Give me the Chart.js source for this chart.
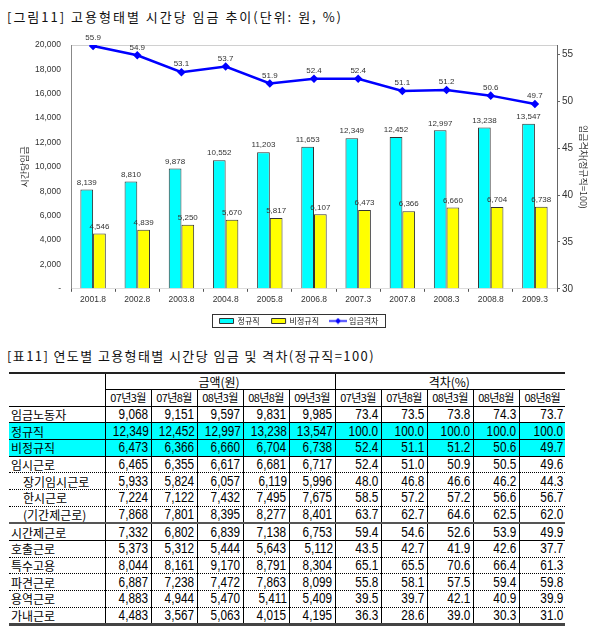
<!DOCTYPE html>
<html>
<head>
<meta charset="utf-8">
<script src="https://cdn.jsdelivr.net/npm/chart.js@4.4.1/dist/chart.umd.min.js"></script>
<style>
  body { margin: 0; width: 598px; height: 640px; background: #fff; position: relative; overflow: hidden;
         font-family: "Noto Sans CJK KR", sans-serif; }
  .ttl { position: absolute; left: 7px; font-size: 13px; color: #111; white-space: nowrap; line-height: 16px; }
  #chartBox { position: absolute; left: 0; top: 28px; width: 598px; height: 307px; }
  table { position: absolute; left: 9px; top: 372px; width: 556px; border-collapse: collapse; table-layout: fixed; }
  td { border-left: 1px solid #000; padding: 0 2px 0 0; text-align: right; white-space: nowrap; overflow: hidden;
       font-family: "Liberation Sans", Arial, sans-serif; font-size: 14px;
       height: 15.7px; line-height: 15px; color: #000; }
  td .n { display: inline-block; transform: scaleX(0.84); transform-origin: right center; }
  td.lab { border-left: none; text-align: left; font-family: "Noto Sans CJK KR", sans-serif; font-size: 12px; padding-left: 2px; }
  td.ind { padding-left: 14px; }
  tr.head1 td { border-top: 2px solid #222; border-bottom: 1px solid #000; height: 14px; text-align: center;
                font-family: "Noto Sans CJK KR", sans-serif; font-size: 12px; }
  tr.head2 td { border-bottom: 1px solid #000; height: 15.5px; text-align: center; padding: 0;
                font-family: "Noto Sans CJK KR", sans-serif; font-size: 11px; letter-spacing: -0.6px; }
  tr.sol td { border-bottom: 1px solid #000; }
  tr.dot td { border-bottom: 1px dotted #000; }
  tr.thk td { border-bottom: 2px solid #555; }
  tr.end td { border-bottom: 3px solid #444; }
  tr.cyan td { background: #00ffff; }
</style>
</head>
<body>
<div class="ttl" style="top:9px; letter-spacing:2px">[그림11] 고용형태별 시간당 임금 추이(단위: 원, %)</div>
<div id="chartBox"><canvas id="wageChart"></canvas></div>
<div class="ttl" style="top:348px; letter-spacing:1.4px">[표11] 연도별 고용형태별 시간당 임금 및 격차(정규직=100)</div>
<table id="wageTable"></table>

<script>
// chart data
const periods = ['2001.8', '2002.8', '2003.8', '2004.8', '2005.8', '2006.8', '2007.3', '2007.8', '2008.3', '2008.8', '2009.3'];
const regularWage = [8139, 8810, 9878, 10552, 11203, 11653, 12349, 12452, 12997, 13238, 13547];
const nonRegularWage = [4546, 4839, 5250, 5670, 5817, 6107, 6473, 6366, 6660, 6704, 6738];
const wageGap = [55.9, 54.9, 53.1, 53.7, 51.9, 52.4, 52.4, 51.1, 51.2, 50.6, 49.7];
const seriesNames = ['정규직', '비정규직', '임금격차'];

// table data
const amountCols = ['07년3월', '07년8월', '08년3월', '08년8월', '09년3월'];
const gapCols = ['07년3월', '07년8월', '08년3월', '08년8월', '08년8월'];
const rowLabels = ['임금노동자', '정규직', '비정규직', '임시근로', '장기임시근로', '한시근로', '(기간제근로)',
                   '시간제근로', '호출근로', '특수고용', '파견근로', '용역근로', '가내근로'];
const amounts = [
  [9068, 9151, 9597, 9831, 9985],
  [12349, 12452, 12997, 13238, 13547],
  [6473, 6366, 6660, 6704, 6738],
  [6465, 6355, 6617, 6681, 6717],
  [5933, 5824, 6057, 6119, 5996],
  [7224, 7122, 7432, 7495, 7675],
  [7868, 7801, 8395, 8277, 8401],
  [7332, 6802, 6839, 7138, 6753],
  [5373, 5312, 5444, 5643, 5112],
  [8044, 8161, 9170, 8791, 8304],
  [6887, 7238, 7472, 7863, 8099],
  [4883, 4944, 5470, 5411, 5409],
  [4483, 3567, 5063, 4015, 4195]
];
const gaps = [
  [73.4, 73.5, 73.8, 74.3, 73.7],
  [100.0, 100.0, 100.0, 100.0, 100.0],
  [52.4, 51.1, 51.2, 50.6, 49.7],
  [52.4, 51.0, 50.9, 50.5, 49.6],
  [48.0, 46.8, 46.6, 46.2, 44.3],
  [58.5, 57.2, 57.2, 56.6, 56.7],
  [63.7, 62.7, 64.6, 62.5, 62.0],
  [59.4, 54.6, 52.6, 53.9, 49.9],
  [43.5, 42.7, 41.9, 42.6, 37.7],
  [65.1, 65.5, 70.6, 66.4, 61.3],
  [55.8, 58.1, 57.5, 59.4, 59.8],
  [39.5, 39.7, 42.1, 40.9, 39.9],
  [36.3, 28.6, 39.0, 30.3, 31.0]
];
const rowStyles = ['sol', 'sol cyan', 'sol cyan', 'dot', 'dot', 'dot', 'thk', 'sol', 'dot', 'dot', 'dot', 'dot', 'end'];
const indented = [4, 5, 6];

// build table
const table = document.getElementById('wageTable');
let html = '<colgroup><col style="width:96px">' + '<col style="width:46px">'.repeat(10) + '</colgroup>';
html += '<tr class="head1"><td class="lab" rowspan="2" style="border-bottom:1px solid #000"></td>' +
        '<td colspan="5">금액(원)</td><td colspan="5">격차(%)</td></tr>';
html += '<tr class="head2">' + amountCols.concat(gapCols).map(c => `<td>${c}</td>`).join('') + '</tr>';
rowLabels.forEach((name, i) => {
    html += `<tr class="${rowStyles[i]}"><td class="lab${indented.includes(i) ? ' ind' : ''}">${name}</td>`;
    amounts[i].forEach(v => { html += `<td><span class="n">${v.toLocaleString('en-US')}</span></td>`; });
    gaps[i].forEach(v => { html += `<td><span class="n">${v.toFixed(1)}</span></td>`; });
    html += '</tr>';
});
table.innerHTML = html;

// legend marker for the gap line
const gapMarker = document.createElement('canvas');
gapMarker.width = 18;
gapMarker.height = 7;
const gm = gapMarker.getContext('2d');
gm.strokeStyle = '#0000ff';
gm.lineWidth = 1.5;
gm.beginPath(); gm.moveTo(0, 3.5); gm.lineTo(18, 3.5); gm.stroke();
gm.fillStyle = '#0000ff';
gm.beginPath(); gm.moveTo(9, 0.5); gm.lineTo(12, 3.5); gm.lineTo(9, 6.5); gm.lineTo(6, 3.5); gm.closePath(); gm.fill();

const valueLabels = {
    id: 'valueLabels',
    afterDatasetsDraw(chart) {
        const ctx = chart.ctx;
        ctx.save();
        ctx.fillStyle = '#333';
        ctx.textAlign = 'center';
        ctx.textBaseline = 'bottom';
        ctx.font = '8px "Liberation Sans", Arial, sans-serif';
        chart.data.datasets.forEach((ds, i) => {
            const isLine = ds.type === 'line';
            chart.getDatasetMeta(i).data.forEach((el, j) => {
                const v = ds.data[j];
                const txt = isLine ? v.toFixed(1) : v.toLocaleString('en-US');
                ctx.fillText(txt, el.x, el.y - (isLine ? 4 : 3));
            });
        });
        ctx.restore();
    }
};

// box round the legend
const legendFrame = {
    id: 'legendFrame',
    afterDraw(chart) {
        const boxes = chart.legend.legendHitBoxes;
        if (!boxes || !boxes.length) return;
        let l = Infinity, r = -Infinity, t = Infinity, b = -Infinity;
        boxes.forEach(h => {
            l = Math.min(l, h.left); r = Math.max(r, h.left + h.width);
            t = Math.min(t, h.top); b = Math.max(b, h.top + h.height);
        });
        const ctx = chart.ctx;
        ctx.save();
        ctx.strokeStyle = '#333';
        ctx.lineWidth = 1;
        ctx.strokeRect(Math.round(l - 8) + 0.5, Math.round(t - 3) + 0.5, Math.round(r - l + 14), Math.round(b - t + 5));
        ctx.restore();
    }
};

const tickFont = { family: '"Liberation Sans", Arial, sans-serif', size: 8.5 };

new Chart(document.getElementById('wageChart'), {
    data: {
        labels: periods,
        datasets: [{
            type: 'bar',
            label: seriesNames[0],
            data: regularWage,
            backgroundColor: '#00ffff',
            borderColor: '#333',
            borderWidth: 1,
            yAxisID: 'y',
            order: 2
        }, {
            type: 'bar',
            label: seriesNames[1],
            data: nonRegularWage,
            backgroundColor: '#ffff00',
            borderColor: '#333',
            borderWidth: 1,
            yAxisID: 'y',
            order: 2
        }, {
            type: 'line',
            label: seriesNames[2],
            data: wageGap,
            borderColor: '#0000ff',
            backgroundColor: '#0000ff',
            borderWidth: 2.5,
            pointStyle: 'rectRot',
            pointRadius: 2.5,
            tension: 0,
            yAxisID: 'y1',
            order: 1
        }]
    },
    options: {
        responsive: true,
        maintainAspectRatio: false,
        animation: false,
        devicePixelRatio: 1,
        layout: { padding: { top: 17, left: 0, right: 0, bottom: 0 } },
        datasets: {
            bar: { categoryPercentage: 0.575, barPercentage: 1 }
        },
        scales: {
            x: {
                offset: true,
                afterFit(scale) { scale.height -= 3; },
                grid: { drawOnChartArea: false, offset: true, tickLength: 3, color: '#555' },
                border: { color: '#ddd' },
                ticks: { font: tickFont, color: '#333', padding: 3, maxRotation: 0, autoSkip: false }
            },
            y: {
                position: 'left',
                min: 0,
                max: 20000,
                afterFit(scale) { scale.width = 71; },
                grid: {
                    drawTicks: false,
                    color: ctx => (ctx.tick && ctx.tick.value === 20000 ? '#d0d0d0' : 'rgba(0,0,0,0)')
                },
                border: { color: '#888' },
                ticks: {
                    stepSize: 2000,
                    padding: 10,
                    color: '#333',
                    font: tickFont,
                    callback: v => (v === 0 ? '-' : v.toLocaleString('en-US'))
                },
                title: {
                    display: true,
                    text: '시간당임금',
                    color: '#333',
                    font: { family: '"Noto Sans CJK KR", sans-serif', size: 9 },
                    padding: { top: 19, bottom: 19 }
                }
            },
            y1: {
                position: 'right',
                min: 30,
                max: 56,
                afterFit(scale) { scale.width = 41; },
                grid: { drawOnChartArea: false, tickLength: 3, color: '#666' },
                border: { color: '#666' },
                ticks: {
                    stepSize: 5,
                    includeBounds: false,
                    padding: 2,
                    color: '#333',
                    font: { family: '"Liberation Sans", Arial, sans-serif', size: 10 }
                },
                title: {
                    display: true,
                    text: '임금격차(정규직=100)',
                    color: '#333',
                    font: { family: '"Noto Sans CJK KR", sans-serif', size: 9 },
                    padding: { top: 9, bottom: 0 }
                }
            }
        },
        plugins: {
            title: { display: false },
            tooltip: { enabled: false },
            legend: {
                position: 'bottom',
                labels: {
                    usePointStyle: true,
                    pointStyleWidth: 14,
                    boxWidth: 14,
                    boxHeight: 5,
                    padding: 12,
                    color: '#222',
                    font: { family: '"Noto Sans CJK KR", sans-serif', size: 8 },
                    generateLabels(chart) {
                        const items = Chart.defaults.plugins.legend.labels.generateLabels(chart);
                        items.sort((a, b) => a.datasetIndex - b.datasetIndex);
                        items.forEach(item => {
                            item.pointStyle = item.datasetIndex === 2 ? gapMarker : 'rect';
                        });
                        return items;
                    }
                }
            }
        }
    },
    plugins: [valueLabels, legendFrame]
});
</script>
</body>
</html>
